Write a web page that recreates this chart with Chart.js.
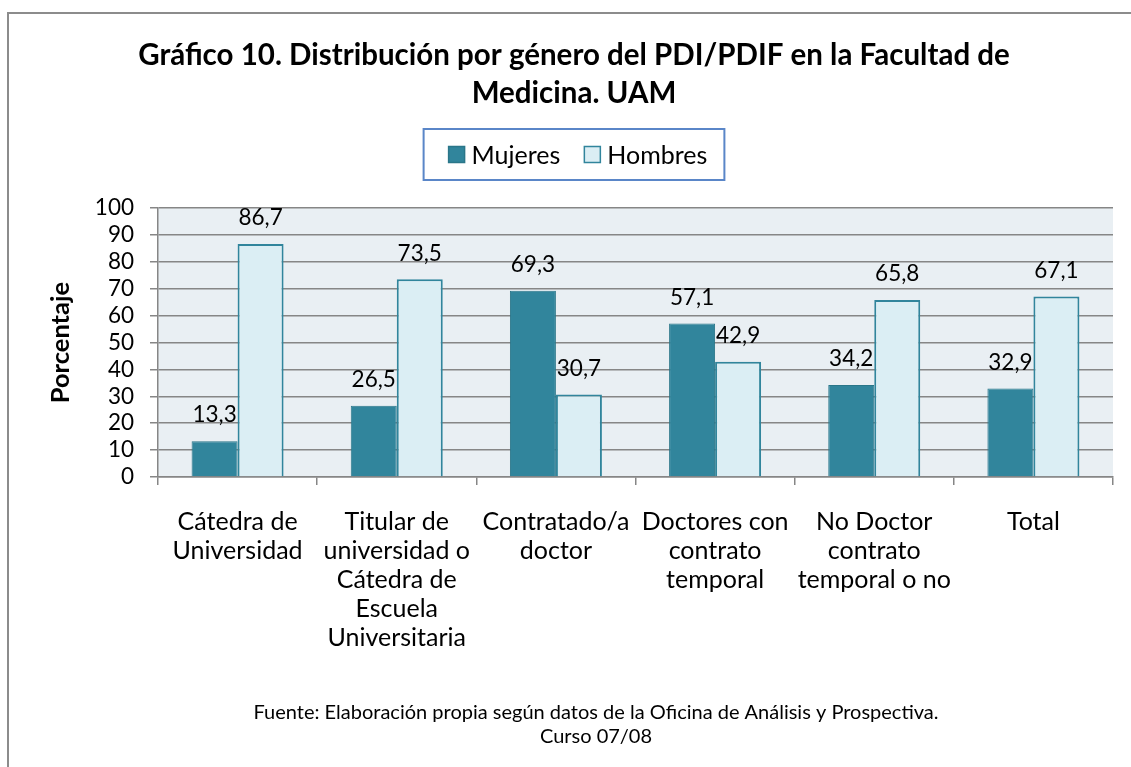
<!DOCTYPE html>
<html><head><meta charset="utf-8">
<script src="https://cdn.jsdelivr.net/npm/chart.js@4.4.1/dist/chart.umd.min.js"></script>
<style>
html,body{margin:0;padding:0;background:#fff;overflow:hidden;width:1131px;height:767px;}
#frame{position:absolute;left:7px;top:12px;width:1200px;height:800px;border-left:2px solid #8c8c8c;border-top:2px solid #8c8c8c;}
#wrap{position:absolute;left:0;top:0;width:1131px;height:767px;}
</style></head><body>
<div id="frame"></div>
<div id="wrap"><canvas id="c" width="1131" height="767"></canvas></div>
<script>
const chartTitle = ['Gráfico 10. Distribución por género del PDI/PDIF en la Facultad de', 'Medicina. UAM'];
const categories = [
  ['Cátedra de', 'Universidad'],
  ['Titular de', 'universidad o', 'Cátedra de', 'Escuela', 'Universitaria'],
  ['Contratado/a', 'doctor'],
  ['Doctores con', 'contrato', 'temporal'],
  ['No Doctor', 'contrato', 'temporal o no'],
  ['Total']
];
const seriesNames = ['Mujeres', 'Hombres'];
const mujeres = [13.3, 26.5, 69.3, 57.1, 34.2, 32.9];
const hombres = [86.7, 73.5, 30.7, 42.9, 65.8, 67.1];
const yMin = 0, yMax = 100, yStep = 10;
const axisTitle = 'Porcentaje';
const footnote = ['Fuente: Elaboración propia según datos de la Oficina de Análisis y Prospectiva.', 'Curso 07/08'];

const FONT = 'Lato, "Open Sans", sans-serif';
const GRID = '#868686';

const fmt = v => v.toFixed(1).replace('.', ',');

const plotBg = {
  id: 'plotBg',
  beforeDraw(chart) {
    const {ctx, chartArea: a} = chart;
    ctx.save();
    ctx.fillStyle = '#e9eff3';
    ctx.fillRect(a.left, a.top, a.right - a.left, a.bottom - a.top);
    ctx.restore();
  }
};

const valueLabels = {
  id: 'valueLabels',
  afterDatasetsDraw(chart) {
    const {ctx} = chart;
    ctx.save();
    ctx.font = '22.5px ' + FONT;
    ctx.fillStyle = '#000';
    ctx.textAlign = 'center';
    ctx.textBaseline = 'middle';
    chart.data.datasets.forEach((ds, i) => {
      chart.getDatasetMeta(i).data.forEach((el, j) => {
        ctx.fillText(fmt(ds.data[j]), el.x, el.y - 26);
      });
    });
    ctx.restore();
  }
};

const customLegend = {
  id: 'customLegend',
  afterDraw(chart) {
    const {ctx} = chart;
    ctx.save();
    ctx.font = '25px ' + FONT;
    const box = 16, gapText = 7, gapItem = 24, padL = 25, padR = 17;
    const items = chart.data.datasets.map(ds => ({label: ds.label, bg: ds.backgroundColor, bc: ds.borderColor, w: ctx.measureText(ds.label).width}));
    let total = 0;
    items.forEach((it, i) => { total += box + gapText + it.w + (i < items.length - 1 ? gapItem : 0); });
    const boxW = total + padL + padR;
    const pad = chart.options.layout.padding;
    const cx = pad.left + (chart.width - pad.left - pad.right) / 2;
    const left = cx - boxW / 2;
    const top = 129, h = 51;
    const cy = top + h / 2;
    ctx.strokeStyle = '#5a86c8';
    ctx.lineWidth = 2;
    ctx.strokeRect(left, top, boxW, h);
    let x = left + padL;
    ctx.textBaseline = 'middle';
    ctx.textAlign = 'left';
    items.forEach(it => {
      ctx.fillStyle = it.bg;
      ctx.fillRect(x, cy - box / 2, box, box);
      ctx.strokeStyle = it.bc;
      ctx.lineWidth = 1.5;
      ctx.strokeRect(x, cy - box / 2, box, box);
      x += box + gapText;
      ctx.fillStyle = '#000';
      ctx.fillText(it.label, x, cy + 1);
      x += it.w + gapItem;
    });
    ctx.restore();
  }
};

const footnotePlugin = {
  id: 'footnotePlugin',
  afterDraw(chart) {
    const {ctx} = chart;
    ctx.save();
    ctx.font = '20px ' + FONT;
    ctx.fillStyle = '#000';
    ctx.textAlign = 'center';
    ctx.textBaseline = 'middle';
    footnote.forEach((line, i) => ctx.fillText(line, 596, 713 + i * 24));
    ctx.restore();
  }
};

new Chart(document.getElementById('c'), {
  type: 'bar',
  data: {
    labels: categories,
    datasets: [
      {label: seriesNames[0], data: mujeres, backgroundColor: '#31859c', borderColor: '#2a7689', borderWidth: 1},
      {label: seriesNames[1], data: hombres, backgroundColor: '#dbeef4', borderColor: '#31859c', borderWidth: 2}
    ]
  },
  options: {
    responsive: false,
    animation: false,
    layout: {padding: {left: 35, right: 18, top: 0, bottom: 90}},
    datasets: {bar: {categoryPercentage: 0.578, barPercentage: 1.0}},
    plugins: {
      legend: {display: false},
      tooltip: {enabled: false},
      title: {
        display: true,
        text: chartTitle,
        color: '#000',
        font: {family: FONT, size: 29.5, weight: 'bold', lineHeight: 1.28},
        padding: {top: 37, bottom: 95.6}
      }
    },
    scales: {
      x: {
        grid: {display: true, drawOnChartArea: false, drawTicks: true, tickLength: 8, color: GRID, lineWidth: 1.5, offset: true},
        border: {display: true, color: GRID, width: 1.5},
        ticks: {color: '#000', font: {family: FONT, size: 25, lineHeight: 1.16}, padding: 22, maxRotation: 0, minRotation: 0, autoSkip: false},
        afterFit(scale) { scale.height = 200; }
      },
      y: {
        min: yMin, max: yMax,
        grid: {color: GRID, lineWidth: 1.5, tickLength: 8, drawTicks: true},
        border: {display: true, color: GRID, width: 1.5},
        ticks: {stepSize: yStep, autoSkip: false, color: '#000', font: {family: FONT, size: 22.5}, padding: 16},
        title: {display: true, text: axisTitle, color: '#000', font: {family: FONT, size: 25.5, weight: 'bold', lineHeight: 1.2}, padding: {top: 10.7, bottom: 0}},
        afterFit(scale) { scale.width = 123; }
      }
    }
  },
  plugins: [plotBg, valueLabels, customLegend, footnotePlugin]
});
</script>
</body></html>
